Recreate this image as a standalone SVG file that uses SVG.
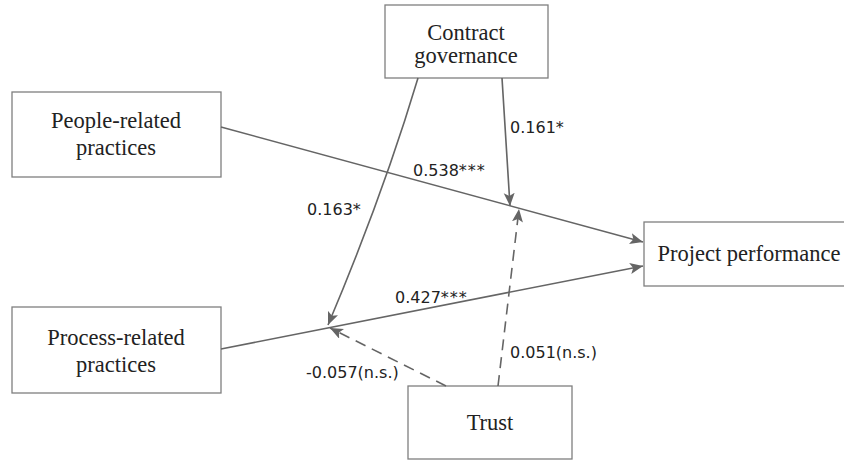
<svg xmlns="http://www.w3.org/2000/svg" width="844" height="460" viewBox="0 0 844 460">
<style>
.box{fill:#fff;stroke:#7f7f7f;stroke-width:1.3}
.nt{font-family:"Liberation Serif","Times New Roman",serif;font-size:22.5px;fill:#222;text-anchor:middle}
.lbl{font-family:"DejaVu Sans",sans-serif;font-size:16px;fill:#222}
.ast{letter-spacing:1px}
.ln{fill:none;stroke:#656565;stroke-width:1.6}
.ds{stroke-dasharray:11 7}
</style>
<defs>
<marker id="ah" markerUnits="userSpaceOnUse" markerWidth="14" markerHeight="12" refX="13" refY="5.5" orient="auto">
<path d="M0,0 L13,5.5 L0,11 L3,5.5 z" fill="#656565"/>
</marker>
</defs>
<rect width="844" height="460" fill="#fff"/>
<g id="contract">
<rect class="box" x="385" y="5" width="163" height="73"/>
<text class="nt" x="466" y="40">Contract</text>
<text class="nt" x="466" y="63">governance</text>
</g>
<g id="people">
<rect class="box" x="12" y="92" width="209" height="85"/>
<text class="nt" x="116" y="128">People-related</text>
<text class="nt" x="116" y="155">practices</text>
</g>
<g id="process">
<rect class="box" x="12" y="307" width="209" height="86"/>
<text class="nt" x="116" y="345">Process-related</text>
<text class="nt" x="116" y="372">practices</text>
</g>
<g id="project">
<rect class="box" x="644" y="222" width="210" height="64"/>
<text class="nt" x="749" y="261">Project performance</text>
</g>
<g id="trust">
<rect class="box" x="408" y="386" width="164" height="73"/>
<text class="nt" x="490" y="430">Trust</text>
</g>
<g id="connectors">
<line class="ln" x1="221" y1="127" x2="643" y2="242" marker-end="url(#ah)"/>
<line class="ln" x1="221" y1="349" x2="643" y2="266" marker-end="url(#ah)"/>
<path class="ln" d="M418,78 Q383,195 328,325" marker-end="url(#ah)"/>
<line class="ln" x1="502" y1="78" x2="510" y2="206" marker-end="url(#ah)"/>
<line class="ln ds" x1="498" y1="386" x2="519" y2="209" marker-end="url(#ah)"/>
<line class="ln ds" x1="446" y1="386" x2="330" y2="328" marker-end="url(#ah)"/>
<text class="lbl" x="413" y="176">0.538<tspan class="ast">***</tspan></text>
<text class="lbl" x="307" y="215">0.163*</text>
<text class="lbl" x="395" y="303">0.427<tspan class="ast">***</tspan></text>
<text class="lbl" x="510" y="133">0.161*</text>
<text class="lbl" x="510" y="358">0.051(n.s.)</text>
<text class="lbl" x="306" y="378">-0.057(n.s.)</text>
</g>
</svg>
